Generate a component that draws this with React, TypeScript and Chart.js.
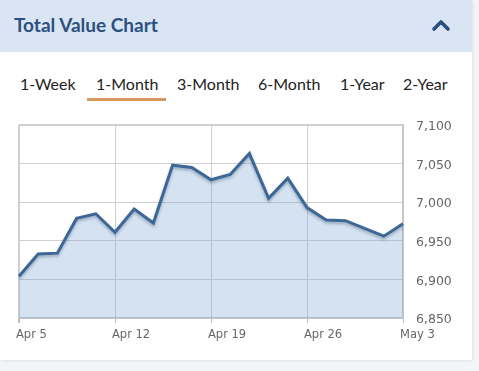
import React, { useEffect, useRef } from "react";
import { Chart, registerables } from "chart.js";

Chart.register(...registerables);

const dateLabels = [
  "Apr 5", "Apr 6", "Apr 7", "Apr 8", "Apr 9",
  "Apr 12", "Apr 13", "Apr 14", "Apr 15", "Apr 16",
  "Apr 19", "Apr 20", "Apr 21", "Apr 22", "Apr 23",
  "Apr 26", "Apr 27", "Apr 28", "Apr 29", "Apr 30",
  "May 3",
];

const totalValues = [
  6904, 6933, 6934, 6979, 6985,
  6961, 6991, 6973, 7048, 7045,
  7029, 7036, 7063, 7005, 7031,
  6993, 6977, 6976, 6966, 6956,
  6972,
];

const yMin = 6850;
const yMax = 7100;
const yStep = 50;
const labelEvery = 5;

const tabLabels = ["1-Week", "1-Month", "3-Month", "6-Month", "1-Year", "2-Year"];
const tabLefts = [20, 96, 177, 258, 340, 403];

const lineShadow = {
  id: "lineShadow",
  beforeDatasetDraw(chart: any) {
    const ctx = chart.ctx;
    ctx.save();
    ctx.shadowColor = "rgba(40,60,90,0.35)";
    ctx.shadowBlur = 3;
    ctx.shadowOffsetY = 2;
  },
  afterDatasetDraw(chart: any) {
    chart.ctx.restore();
  },
};

function TotalValueChart() {
  const ref = useRef<HTMLCanvasElement | null>(null);
  useEffect(() => {
    if (!ref.current) return;
    const chart = new Chart(ref.current, {
      type: "line",
      data: {
        labels: dateLabels,
        datasets: [
          {
            data: totalValues,
            borderColor: "#3d6797",
            borderWidth: 3,
            backgroundColor: "rgba(120,165,210,0.32)",
            fill: "start",
            pointRadius: 0,
            tension: 0,
          },
        ],
      },
      options: {
        animation: false,
        responsive: false,
        maintainAspectRatio: false,
        events: [],
        layout: { padding: { left: 19, top: 15, right: 0, bottom: 0 } },
        plugins: { legend: { display: false }, tooltip: { enabled: false } },
        scales: {
          x: {
            type: "category",
            grid: {
              color: (c: any) => (c.index % labelEvery === 0 ? "#cfcfcf" : "rgba(0,0,0,0)"),
              lineWidth: (c: any) => (c.index === 0 ? 2 : 1),
              tickColor: (c: any) => (c.index % labelEvery === 0 ? "#bdbdbd" : "rgba(0,0,0,0)"),
              drawTicks: true,
              tickLength: 5,
            },
            border: { color: "#c6c6c6", width: 2 },
            ticks: {
              autoSkip: false,
              maxRotation: 0,
              align: "start",
              labelOffset: -3,
              padding: 5,
              color: "#666666",
              font: { family: "DejaVu Sans", size: 11.5 },
              callback: (_v: any, i: number) => (i % labelEvery === 0 ? dateLabels[i] : ""),
            },
            afterFit: (s: any) => {
              s.height = 32;
              s.paddingLeft = 0;
              s.paddingRight = 0;
            },
          },
          y: {
            position: "right",
            min: yMin,
            max: yMax,
            grid: {
              color: "#cfcfcf",
              lineWidth: (c: any) => (c.tick && c.tick.value === yMax ? 2 : 1),
              drawTicks: false,
            },
            border: { color: "#c6c6c6", width: 2 },
            ticks: {
              stepSize: yStep,
              padding: 13,
              labelOffset: 2,
              color: "#666666",
              font: { family: "DejaVu Sans", size: 12.5 },
              callback: (v: any) => Number(v).toLocaleString("en-US"),
            },
            afterFit: (s: any) => {
              s.width = 69;
              s.paddingTop = 0;
              s.paddingBottom = 0;
            },
          },
        },
      },
      plugins: [lineShadow],
    });
    return () => chart.destroy();
  }, []);
  return (
    <canvas
      ref={ref}
      width={472}
      height={240}
      style={{ position: "absolute", left: 0, top: 110, width: 472, height: 240 }}
    />
  );
}

export default function App() {
  useEffect(() => {
    document.body.style.margin = "0";
  }, []);
  return (
    <div
      style={{
        position: "relative",
        width: 479,
        height: 371,
        background: "#f4f5f7",
        overflow: "hidden",
        fontFamily: "Lato, 'Open Sans', sans-serif",
      }}
    >
      <div
        style={{
          position: "absolute",
          left: 0,
          top: 0,
          width: 472,
          height: 360,
          background: "#ffffff",
          boxShadow: "1px 1px 3px rgba(0,0,0,0.08)",
        }}
      >
        <div
          style={{
            position: "absolute",
            left: 0,
            top: 0,
            width: 472,
            height: 52,
            background: "#d9e5f3",
          }}
        >
          <div
            style={{
              position: "absolute",
              left: 14,
              top: 13,
              fontSize: 19,
              fontWeight: 700,
              color: "#2c5080",
              lineHeight: "24px",
              whiteSpace: "nowrap",
            }}
          >
            Total Value Chart
          </div>
          <svg
            width={20}
            height={14}
            style={{ position: "absolute", left: 431, top: 18 }}
          >
            <polyline
              points="3,11 10,4 17,11"
              fill="none"
              stroke="#2b4e7e"
              strokeWidth={3.6}
              strokeLinecap="round"
              strokeLinejoin="round"
            />
          </svg>
        </div>
        {tabLabels.map((t, i) => (
          <div
            key={t}
            style={{
              position: "absolute",
              left: tabLefts[i],
              top: 73,
              fontSize: 16,
              color: "#222222",
              lineHeight: "22px",
              whiteSpace: "nowrap",
            }}
          >
            {t}
          </div>
        ))}
        <div
          style={{
            position: "absolute",
            left: 87,
            top: 98,
            width: 79,
            height: 2.5,
            background: "#d8975e",
          }}
        />
        <TotalValueChart />
      </div>
    </div>
  );
}
